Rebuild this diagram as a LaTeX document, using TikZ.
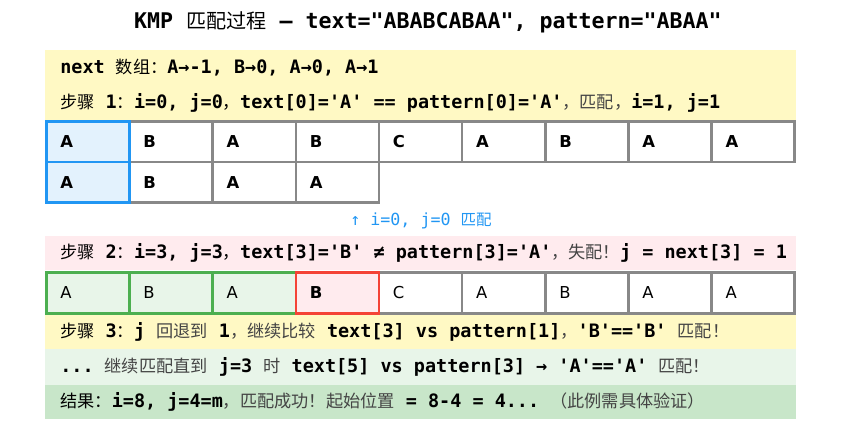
\documentclass[tikz,border=0pt]{standalone}
\usepackage{fontspec}
\setmainfont{DejaVu Sans}
\setmonofont{DejaVu Sans Mono}
\newfontfamily\cjk[Scale=0.93]{Noto Sans CJK SC}
\usetikzlibrary{positioning}

\definecolor{bandyellow}{HTML}{FFF9C4}
\definecolor{bandpink}{HTML}{FFEBEE}
\definecolor{bandmint}{HTML}{E8F5E9}
\definecolor{bandgreen}{HTML}{C8E6C9}
\definecolor{cellgray}{HTML}{888888}
\definecolor{hitblue}{HTML}{2196F3}
\definecolor{hitbluefill}{HTML}{E3F2FD}
\definecolor{okgreen}{HTML}{4CAF50}
\definecolor{badred}{HTML}{F44336}
\definecolor{zhgray}{HTML}{444444}

\newcommand{\zh}[1]{{\cjk\mdseries #1}}
\newcommand{\zhg}[1]{{\cjk\mdseries\color{zhgray}#1}}
\newcommand{\colx}[1]{46.3+83.16*(#1+0.5)}

\tikzset{
  heading/.style={font=\ttfamily\bfseries\fontsize{16.2}{19}\selectfont, inner sep=0pt},
  band/.style={anchor=north west, inner sep=0pt, minimum width=563.25pt},
  say/.style={anchor=west, inner sep=0pt, font=\ttfamily\bfseries\fontsize{13.85}{16}\selectfont},
  cell/.style={draw=cellgray, fill=white, line width=1.9pt, minimum width=62.37pt,
    minimum height=30.5pt, text width=41.37pt, inner xsep=10.5pt, inner ysep=0pt,
    align=left, font=\fontsize{12.3}{14}\selectfont},
  hitcell/.style={draw=hitblue, fill=hitbluefill},
  okcell/.style={draw=okgreen, fill=bandmint},
  badcell/.style={draw=badred, fill=bandpink},
  hint/.style={inner sep=0pt, text=hitblue, font=\ttfamily\fontsize{12.5}{15}\selectfont}
}

\begin{document}
\begin{tikzpicture}[x=0.75pt, y=-0.75pt]
\useasboundingbox (0,0) rectangle (857,445);

% title
\node[heading] (title) at (428,22) {KMP \zh{匹配过程} — text="ABABCABAA", pattern="ABAA"};

% bands
\node[band, fill=bandyellow, minimum height=52.5pt] (nextband) at (45,50) {};
\node[band, fill=bandpink, minimum height=25.5pt] (failband) at (45,236) {};
\node[band, fill=bandyellow, minimum height=26.25pt] (backband) at (45,314) {};
\node[band, fill=bandmint, minimum height=27pt] (moreband) at (45,349) {};
\node[band, fill=bandgreen, minimum height=25.5pt] (resultband) at (45,385) {};

\node[say] (nextline) at (60,68) {next \zh{数组：}A→-1, B→0, A→0, A→1};
\node[say] (step1) at (60,103) {\zh{步骤} 1\zh{：}i=0, j=0\zh{，}text[0]='A' == pattern[0]='A'\zhg{，匹配，}i=1, j=1};

% text row and pattern row
\foreach \i/\ch in {1/B,2/A,3/B,4/C,5/A,6/B,7/A,8/A}
  \node[cell] (t\i) at ({\colx{\i}},141.7) {\bfseries\ch};
\node[cell, hitcell] (t0) at ({\colx{0}},141.7) {\bfseries A};
\foreach \i/\ch in {1/B,2/A,3/A}
  \node[cell] (p\i) at ({\colx{\i}},182.4) {\bfseries\ch};
\node[cell, hitcell] (p0) at ({\colx{0}},182.4) {\bfseries A};

\node[hint] (match0) at (421,221) {↑ i=0, j=0 \zh{匹配}};

\node[say] (step2) at (60,253) {\zh{步骤} 2\zh{：}i=3, j=3\zh{，}text[3]='B' ≠ pattern[3]='A'\zhg{，失配！}j = next[3] = 1};

% text row after mismatch
\foreach \i/\ch in {4/C,5/A,6/B,7/A,8/A}
  \node[cell] (s\i) at ({\colx{\i}},293) {\ch};
\foreach \i/\ch in {0/A,1/B,2/A}
  \node[cell, okcell] (s\i) at ({\colx{\i}},293) {\ch};
\node[cell, badcell] (s3) at ({\colx{3}},293) {\bfseries B};

\node[say] (step3) at (60,332) {\zh{步骤} 3\zh{：}j \zhg{回退到} 1\zhg{，继续比较} text[3] vs pattern[1]\zhg{，}'B'=='B' \zhg{匹配！}};
\node[say] (more) at (60,367) {... \zhg{继续匹配直到} j=3 \zhg{时} text[5] vs pattern[3] → 'A'=='A' \zhg{匹配！}};
\node[say] (result) at (60,402) {\zh{结果：}i=8, j=4=m\zhg{，匹配成功！起始位置} = 8-4 = 4... \zhg{（此例需具体验证）}};
\end{tikzpicture}
\end{document}
